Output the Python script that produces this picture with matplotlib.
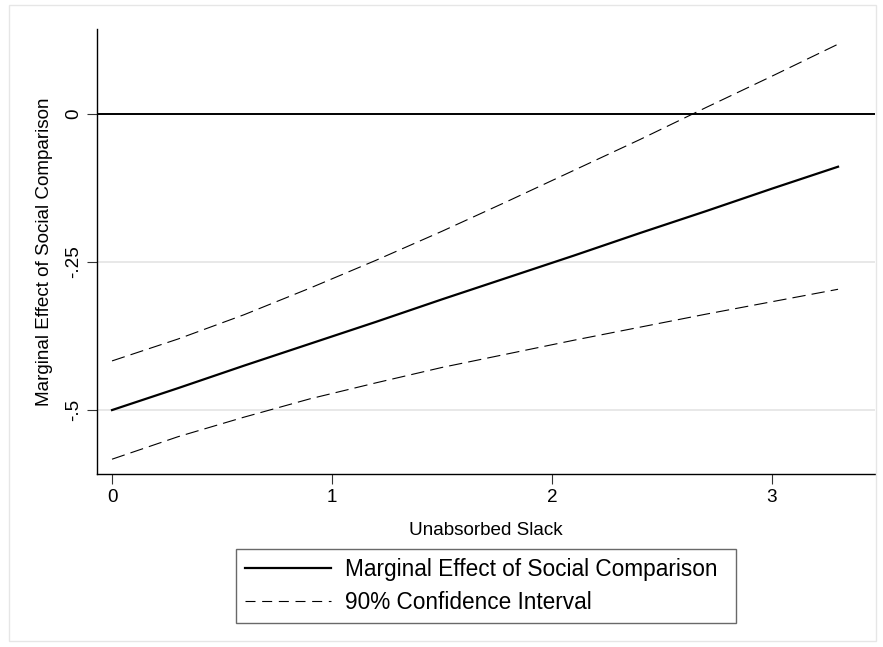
import matplotlib
matplotlib.use("Agg")
import matplotlib.pyplot as plt
from matplotlib.lines import Line2D
from matplotlib.patches import Rectangle

plt.rcParams['font.family'] = ['Liberation Sans', 'DejaVu Sans']

# values
slack = [0.0, 0.3, 0.6, 0.9, 1.2, 1.5, 1.8, 2.1, 2.4, 2.7, 3.0, 3.3]
marginal = [-0.500, -0.463, -0.425, -0.388, -0.351, -0.313,
            -0.276, -0.239, -0.201, -0.164, -0.126, -0.089]
ci_upper = [-0.417, -0.380, -0.339, -0.294, -0.247, -0.198,
            -0.147, -0.095, -0.043, 0.011, 0.064, 0.118]
ci_lower = [-0.583, -0.545, -0.512, -0.481, -0.454, -0.428,
            -0.405, -0.382, -0.360, -0.338, -0.317, -0.296]

xticks = [0, 1, 2, 3]
yticks = [0, -0.25, -0.5]
ytick_labels = ['0', '-.25', '-.5']

W, H = 883, 647
fig = plt.figure(figsize=(W / 100, H / 100), dpi=100)

# outer light frame
fig.patches.append(Rectangle((9 / W, 1 - 641 / H), (876 - 9) / W, (641 - 5) / H,
                             transform=fig.transFigure, fill=False,
                             edgecolor='#e6e6e6', linewidth=1.0))

ax = fig.add_axes([97.3 / W, 1 - 474 / H, (875 - 97.3) / W, (474 - 29) / H])

# grid lines
for yv in yticks[1:]:
    ax.axhline(yv, color='#e8e8e8', linewidth=1.4, zorder=1)
ax.axhline(0, color='black', linewidth=1.4, zorder=2)

ax.plot(slack, marginal, color='black', linewidth=1.6, zorder=3)
dash = (0, (12, 5.5))
ax.plot(slack, ci_upper, color='black', linewidth=0.8, linestyle=dash, zorder=3)
ax.plot(slack, ci_lower, color='black', linewidth=0.8, linestyle=dash, zorder=3)

ax.set_xlim(-0.067, 3.468)
ax.set_ylim(-0.608, 0.1436)

ax.set_xticks(xticks)
ax.set_xticklabels([str(t) for t in xticks])
ax.set_yticks(yticks)
ax.set_yticklabels(ytick_labels, rotation=90, va='center')

ax.spines['top'].set_visible(False)
ax.spines['right'].set_visible(False)
ax.spines['left'].set_linewidth(1.0)
ax.spines['bottom'].set_linewidth(1.0)
ax.tick_params(axis='both', length=7, width=0.8, colors='#333333',
               labelcolor='black', labelsize=13.6, pad=4)

ax.set_xlabel('Unabsorbed Slack', fontsize=13.6, labelpad=11)
ax.set_ylabel('Marginal Effect of Social Comparison', fontsize=13.6, labelpad=9)

handles = [Line2D([], [], color='black', linewidth=1.6),
           Line2D([], [], color='black', linewidth=0.8, linestyle=(0, (9, 6)))]
leg = fig.legend(handles, ['Marginal Effect of Social Comparison', '90% Confidence Interval'],
                 loc='upper left',
                 bbox_to_anchor=(236 / W, 1 - 622 / H, 500 / W, 73 / H),
                 mode='expand',
                 fontsize=16.3, frameon=True, fancybox=False, edgecolor='#444444',
                 handlelength=3.8, handletextpad=0.6, labelspacing=0.42,
                 borderpad=0.4, borderaxespad=0)
leg.get_frame().set_linewidth(1.0)

fig.savefig('out.png', dpi=100, facecolor='white')
